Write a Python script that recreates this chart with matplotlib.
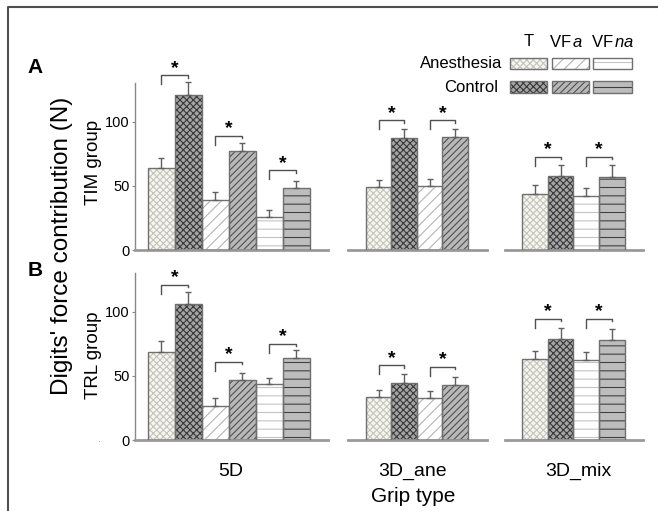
import matplotlib
matplotlib.use("Agg")
import matplotlib.pyplot as plt
from matplotlib.patches import Rectangle
from matplotlib.lines import Line2D

plt.rcParams["font.family"] = ["Liberation Sans", "DejaVu Sans"]
plt.rcParams["mathtext.fontset"] = "custom"
plt.rcParams["mathtext.rm"] = "Liberation Sans"
plt.rcParams["mathtext.it"] = "Liberation Sans:italic"
plt.rcParams["hatch.linewidth"] = 0.8

W, H = 658, 511

GROUPS = ["5D", "3D_ane", "3D_mix"]
GROUP_BARS = [
    ["T_a", "T_c", "VFa_a", "VFa_c", "VFna_a", "VFna_c"],
    ["T_a", "T_c", "VFa_a", "VFa_c"],
    ["T_a", "T_c", "VFna_a", "VFna_c"],
]

# TIM group (panel A)
tim_5d_mean = [64, 121, 39, 77, 26, 48]
tim_5d_err = [8, 10, 6, 6, 5, 6]
tim_ane_mean = [49, 87, 49.5, 88]
tim_ane_err = [5.5, 7, 6, 6.5]
tim_mix_mean = [43.5, 57.5, 42, 57]
tim_mix_err = [7, 9, 6, 9]
tim_bracket = [[136, 89, 62], [101, 101], [72.5, 72.5]]

# TRL group (panel B)
trl_5d_mean = [68.5, 106, 26.5, 46.5, 43.5, 64]
trl_5d_err = [8.5, 9.5, 6.5, 5.5, 4.5, 6]
trl_ane_mean = [33.5, 44, 32.5, 42.5]
trl_ane_err = [5.5, 7.5, 6, 6.5]
trl_mix_mean = [63, 79, 62.5, 78]
trl_mix_err = [6.5, 8, 6, 8.5]
trl_bracket = [[121, 61, 75], [58, 57], [94.5, 94.5]]

Y_TICKS = [0, 50, 100]

STYLES = {
    "T_a": dict(face="#f6f6f0", hatch="xxxxx", hc="#c4c4bc"),
    "T_c": dict(face="#a4a4a4", hatch="xxxxx", hc="#383838"),
    "VFa_a": dict(face="white", hatch="///", hc="#b4b4b4"),
    "VFa_c": dict(face="#b8b8b8", hatch="/////", hc="#505050"),
    "VFna_a": dict(face="white", hatch="--", hc="#c4c4c4"),
    "VFna_c": dict(face="#bdbdbd", hatch="--", hc="#404040"),
}
EDGE = "#707070"

# axes boxes in pixels: (left, right, xmin, xmax)
COLS = [(135, 328, -0.98, 6.17), (348, 487, -1.2, 4.25), (505, 643, -1.16, 4.2)]
ROWS = [250, 440]  # pixel y of zero line
AX_H = 167


def hatched_bar(ax, x, h, key):
    st = STYLES[key]
    ax.bar(x, h, width=1.0, color=st["face"], edgecolor=st["hc"],
           hatch=st["hatch"], linewidth=0, zorder=2)
    ax.bar(x, h, width=1.0, fill=False, edgecolor=EDGE, linewidth=1.0, zorder=3)


def draw_panel(ax, keys, means, errs, brackets, show_y):
    xs = list(range(len(means)))
    for x, m, k in zip(xs, means, keys):
        hatched_bar(ax, x, m, k)
    ax.errorbar(xs, means, yerr=[[0] * len(errs), errs], fmt="none",
                ecolor="#606060", elinewidth=1, capsize=2, capthick=1,
                zorder=4, clip_on=False)
    for i, yb in enumerate(brackets):
        x0, x1 = 2 * i, 2 * i + 1
        ax.add_line(Line2D([x0, x0, x1, x1], [yb - 7, yb, yb, yb - 2],
                           color="#505050", lw=1, clip_on=False))
        ax.text((x0 + x1) / 2, yb + 5.5, "*", ha="center", va="center",
                fontsize=14, fontweight="bold", clip_on=False)
    ax.set_ylim(0, 130)
    for s in ["top", "right"]:
        ax.spines[s].set_visible(False)
    ax.spines["bottom"].set_color("#999999")
    ax.spines["bottom"].set_linewidth(2)
    ax.set_xticks([])
    if show_y:
        ax.spines["left"].set_color("#888888")
        ax.spines["left"].set_linewidth(1)
        ax.set_yticks(Y_TICKS)
        ax.tick_params(axis="y", length=2, width=0.8, color="#888888",
                       labelsize=10.5, pad=2)
    else:
        ax.spines["left"].set_visible(False)
        ax.set_yticks([])


fig = plt.figure(figsize=(W / 100, H / 100), dpi=100)

data = [
    [(tim_5d_mean, tim_5d_err), (tim_ane_mean, tim_ane_err), (tim_mix_mean, tim_mix_err)],
    [(trl_5d_mean, trl_5d_err), (trl_ane_mean, trl_ane_err), (trl_mix_mean, trl_mix_err)],
]
brackets = [tim_bracket, trl_bracket]

for r, yzero in enumerate(ROWS):
    for c, (l, rt, xmin, xmax) in enumerate(COLS):
        ax = fig.add_axes([l / W, 1 - yzero / H, (rt - l) / W, AX_H / H])
        ax.patch.set_alpha(0)
        means, errs = data[r][c]
        draw_panel(ax, GROUP_BARS[c], means, errs, brackets[r][c], c == 0)
        ax.set_xlim(xmin, xmax)

# frame around figure
fig.add_artist(Line2D([8 / W, 8 / W, 1], [0, 1 - 7 / H, 1 - 7 / H],
                      color="#505050", lw=1.5, transform=fig.transFigure))

# panel letters and axis titles
fig.text(35 / W, 1 - 67 / H, "A", fontsize=15, fontweight="bold", ha="center", va="center")
fig.text(35 / W, 1 - 270 / H, "B", fontsize=15, fontweight="bold", ha="center", va="center")
fig.text(62 / W, 1 - 246 / H, "Digits' force contribution (N)", fontsize=17.5,
         rotation=90, ha="center", va="center")
fig.text(94 / W, 1 - 162 / H, "TIM group", fontsize=13.5, rotation=90, ha="center", va="center")
fig.text(94 / W, 1 - 355 / H, "TRL group", fontsize=13.5, rotation=90, ha="center", va="center")
fig.text(99 / W, 1 - 443 / H, "·", fontsize=6, color="#888888", ha="center", va="center")

for name, xc in zip(GROUPS, [231, 413, 578]):
    fig.text(xc / W, 1 - 471 / H, name, fontsize=14, ha="center", va="center")
fig.text(413 / W, 1 - 496 / H, "Grip type", fontsize=15, ha="center", va="center")

# legend table
legend_cols = [("T", "T_a", "T_c", 510, 547, 529),
               ("VF$\\,\\mathit{a}$", "VFa_a", "VFa_c", 552, 589, 566),
               ("VF$\\,\\mathit{na}$", "VFna_a", "VFna_c", 593, 632, 613)]
for head, ka, kc, x0, x1, xh in legend_cols:
    fig.text(xh / W, 1 - 42 / H, head, fontsize=12, ha="center", va="center")
    for key, y0, y1 in [(ka, 58, 69), (kc, 81, 93)]:
        st = STYLES[key]
        rect = Rectangle((x0 / W, 1 - y1 / H), (x1 - x0) / W, (y1 - y0) / H,
                         transform=fig.transFigure, facecolor=st["face"],
                         edgecolor=st["hc"], hatch=st["hatch"], linewidth=0)
        fig.add_artist(rect)
        fig.add_artist(Rectangle((x0 / W, 1 - y1 / H), (x1 - x0) / W, (y1 - y0) / H,
                                 transform=fig.transFigure, fill=False,
                                 edgecolor=EDGE, linewidth=1))
fig.text(502 / W, 1 - 63 / H, "Anesthesia", fontsize=12, ha="right", va="center")
fig.text(498 / W, 1 - 87 / H, "Control", fontsize=12, ha="right", va="center")

fig.savefig("out.png", dpi=100)
